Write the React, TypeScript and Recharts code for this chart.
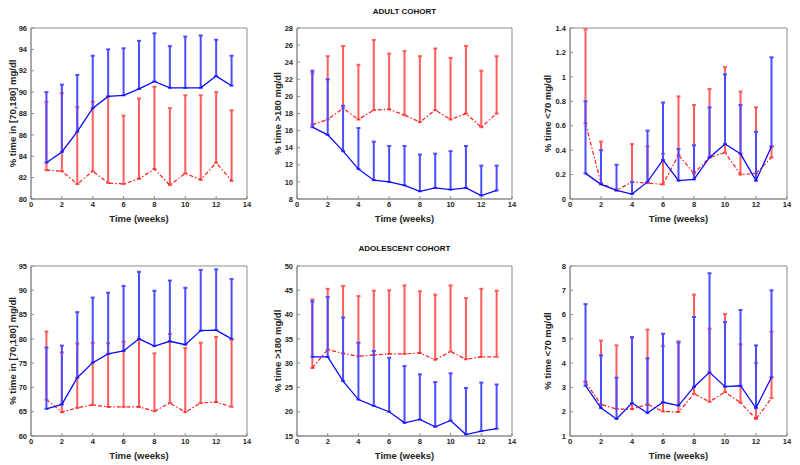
import { ComposedChart, ErrorBar, Line, ReferenceArea, XAxis, YAxis } from 'recharts'

const weeks = [1, 2, 3, 4, 5, 6, 7, 8, 9, 10, 11, 12, 13]
const weekTicks = [0, 2, 4, 6, 8, 10, 12, 14]

// adult cohort
const adultTirBlue = [83.4, 84.4, 86.3, 88.5, 89.6, 89.7, 90.3, 91.0, 90.4, 90.4, 90.4, 91.5, 90.6]
const adultTirBlueHi = [90.0, 90.7, 91.6, 93.4, 94.0, 94.1, 94.8, 95.5, 94.3, 95.2, 95.3, 94.9, 93.4]
const adultTirRed = [82.7, 82.6, 81.4, 82.6, 81.5, 81.4, 81.9, 82.8, 81.3, 82.4, 81.8, 83.4, 81.7]
const adultTirRedHi = [89.1, 89.9, 88.6, 89.1, 89.6, 87.8, 89.4, 90.5, 88.5, 89.7, 89.7, 90.0, 88.3]

const adultHighBlue = [16.4, 15.5, 13.6, 11.5, 10.2, 10.0, 9.6, 8.9, 9.3, 9.1, 9.3, 8.4, 9.0]
const adultHighBlueHi = [23.0, 22.0, 18.9, 16.3, 14.7, 14.2, 14.2, 13.2, 13.3, 13.6, 14.2, 11.9, 11.9]
const adultHighRed = [16.7, 17.3, 18.6, 17.3, 18.4, 18.5, 17.8, 17.0, 18.4, 17.3, 18.0, 16.4, 18.0]
const adultHighRedHi = [22.7, 24.7, 25.9, 23.7, 26.6, 25.0, 25.3, 24.7, 25.6, 24.5, 25.9, 23.0, 24.7]

const adultLowBlue = [0.21, 0.12, 0.07, 0.04, 0.14, 0.32, 0.15, 0.16, 0.34, 0.45, 0.37, 0.15, 0.43]
const adultLowBlueHi = [0.8, 0.4, 0.28, 0.14, 0.56, 0.79, 0.41, 0.44, 0.75, 1.02, 0.77, 0.55, 1.16]
const adultLowRed = [0.62, 0.13, 0.07, 0.14, 0.13, 0.12, 0.36, 0.21, 0.34, 0.38, 0.2, 0.21, 0.34]
const adultLowRedHi = [1.39, 0.47, 0.08, 0.45, 0.43, 0.37, 0.84, 0.77, 0.9, 1.08, 0.88, 0.75, 0.43]

// adolescent cohort
const teenTirBlue = [65.6, 66.5, 72.0, 75.1, 76.9, 77.5, 80.0, 78.5, 79.5, 78.8, 81.7, 81.8, 80.0]
const teenTirBlueHi = [78.2, 78.6, 85.5, 88.5, 89.5, 90.9, 93.8, 89.9, 92.0, 90.5, 94.2, 94.3, 92.3]
const teenTirRed = [67.5, 64.9, 65.8, 66.4, 66.0, 66.0, 66.0, 65.1, 66.8, 64.9, 66.8, 67.0, 66.0]
const teenTirRedHi = [81.5, 77.2, 79.0, 79.2, 79.1, 79.4, 79.9, 77.0, 81.0, 78.1, 79.2, 80.4, 79.8]

const teenHighBlue = [31.3, 31.3, 26.3, 22.5, 21.2, 20.0, 17.7, 18.4, 16.9, 18.2, 15.3, 16.0, 16.5]
const teenHighBlueHi = [42.7, 43.6, 39.4, 34.2, 32.5, 31.1, 29.4, 27.7, 26.1, 27.9, 24.9, 26.0, 25.6]
const teenHighRed = [29.0, 32.8, 32.0, 31.4, 31.7, 31.9, 31.9, 32.1, 30.7, 32.4, 30.8, 31.3, 31.3]
const teenHighRedHi = [43.1, 45.3, 45.9, 43.8, 44.9, 45.0, 46.0, 44.8, 44.1, 46.0, 43.4, 45.3, 44.9]

const teenLowBlue = [3.07, 2.15, 1.7, 2.36, 1.95, 2.39, 2.25, 3.02, 3.62, 3.03, 3.07, 2.15, 3.42]
const teenLowBlueHi = [6.43, 4.32, 3.4, 5.06, 4.2, 5.21, 4.85, 5.9, 7.7, 5.69, 6.19, 4.73, 7.0]
const teenLowRed = [3.22, 2.3, 2.11, 2.11, 2.3, 2.01, 1.99, 2.74, 2.41, 2.81, 2.37, 1.7, 2.56]
const teenLowRedHi = [3.25, 4.93, 4.73, 5.08, 5.38, 4.7, 4.9, 6.82, 5.42, 6.02, 4.78, 4.0, 5.3]

const tirTicksAdult = [80, 82, 84, 86, 88, 90, 92, 94, 96]
const highTicksAdult = [8, 10, 12, 14, 16, 18, 20, 22, 24, 26, 28]
const lowTicksAdult = [0, 0.2, 0.4, 0.6, 0.8, 1, 1.2, 1.4]
const tirTicksTeen = [60, 65, 70, 75, 80, 85, 90, 95]
const highTicksTeen = [15, 20, 25, 30, 35, 40, 45, 50]
const lowTicksTeen = [1, 2, 3, 4, 5, 6, 7, 8]

const FONT = '"Liberation Sans", Arial, sans-serif'
const AXIS = '#8c8c8c'
const TEXT = '#262626'

function rows(blue: number[], blueHi: number[], red: number[], redHi: number[]) {
  return weeks.map((w, i) => ({
    week: w,
    blue: blue[i],
    blueErr: [0, blueHi[i] - blue[i]],
    red: red[i],
    redErr: [0, redHi[i] - red[i]],
  }))
}

type PanelProps = {
  x: number
  y: number
  w: number
  h: number
  yw: number
  labelOffset: number
  ticks: number[]
  yLabel: string
  data: ReturnType<typeof rows>
}

function Panel({ x, y, w, h, yw, labelOffset, ticks, yLabel, data }: PanelProps) {
  const mt = 10
  const mr = 10
  const xh = 26
  const tickStyle = { fontSize: 7.5, fontWeight: 700, fill: TEXT, fontFamily: FONT }
  const labelStyle = { fontSize: 9.5, fontWeight: 700, fill: TEXT, fontFamily: FONT }
  const domain: [number, number] = [ticks[0], ticks[ticks.length - 1]]
  return (
    <div style={{ position: 'absolute', left: x - yw, top: y - mt }}>
      <ComposedChart
        width={yw + w + mr}
        height={mt + h + xh}
        data={data}
        margin={{ top: mt, right: mr, left: 0, bottom: 0 }}
      >
        <XAxis
          dataKey="week"
          type="number"
          domain={[0, 14]}
          ticks={weekTicks}
          height={xh}
          stroke={AXIS}
          tickSize={-3}
          tickMargin={6}
          tick={tickStyle}
          label={{ value: 'Time (weeks)', position: 'insideBottom', offset: 3, style: labelStyle }}
        />
        <YAxis
          type="number"
          domain={domain}
          ticks={ticks}
          width={yw}
          stroke={AXIS}
          tickSize={-3}
          tickMargin={7}
          tick={tickStyle}
          allowDataOverflow
          label={{
            value: yLabel,
            angle: -90,
            position: 'insideLeft',
            offset: labelOffset,
            style: { ...labelStyle, textAnchor: 'middle' },
          }}
        />
        <ReferenceArea
          x1={0}
          x2={14}
          y1={domain[0]}
          y2={domain[1]}
          fill="none"
          stroke={AXIS}
          strokeWidth={1}
          ifOverflow="visible"
        />
        <Line
          dataKey="red"
          stroke="#ff1a1a"
          strokeWidth={1.2}
          strokeDasharray="4 2 1.5 2"
          dot={false}
          isAnimationActive={false}
        >
          <ErrorBar dataKey="redErr" direction="y" width={2} stroke="#ff5c5c" strokeWidth={2} />
        </Line>
        <Line dataKey="blue" stroke="#0a0aff" strokeWidth={1.3} dot={false} isAnimationActive={false}>
          <ErrorBar dataKey="blueErr" direction="y" width={2} stroke="#4d4dff" strokeWidth={2} />
        </Line>
      </ComposedChart>
    </div>
  )
}

function Title({ text, top }: { text: string; top: number }) {
  return (
    <div
      style={{
        position: 'absolute',
        left: 297,
        width: 215,
        top,
        textAlign: 'center',
        fontFamily: FONT,
        fontWeight: 700,
        fontSize: 8,
        color: '#111',
        lineHeight: '10px',
      }}
    >
      {text}
    </div>
  )
}

export default function App() {
  return (
    <div style={{ position: 'fixed', left: 0, top: 0, width: 800, height: 465, background: '#fff' }}>
      <Title text="ADULT COHORT" top={7} />
      <Title text="ADOLESCENT COHORT" top={244} />
      <Panel x={31} y={28} w={216} h={171} yw={31} labelOffset={13} ticks={tirTicksAdult}
        yLabel="% time in [70,180] mg/dl" data={rows(adultTirBlue, adultTirBlueHi, adultTirRed, adultTirRedHi)} />
      <Panel x={297} y={28} w={215} h={171} yw={31} labelOffset={12} ticks={highTicksAdult}
        yLabel="% time >180 mg/dl" data={rows(adultHighBlue, adultHighBlueHi, adultHighRed, adultHighRedHi)} />
      <Panel x={570} y={28} w={217} h={171} yw={40} labelOffset={18} ticks={lowTicksAdult}
        yLabel="% time <70 mg/dl" data={rows(adultLowBlue, adultLowBlueHi, adultLowRed, adultLowRedHi)} />
      <Panel x={31} y={266} w={216} h={170} yw={31} labelOffset={13} ticks={tirTicksTeen}
        yLabel="% time in [70,180] mg/dl" data={rows(teenTirBlue, teenTirBlueHi, teenTirRed, teenTirRedHi)} />
      <Panel x={297} y={266} w={215} h={170} yw={31} labelOffset={12} ticks={highTicksTeen}
        yLabel="% time >180 mg/dl" data={rows(teenHighBlue, teenHighBlueHi, teenHighRed, teenHighRedHi)} />
      <Panel x={570} y={266} w={217} h={170} yw={40} labelOffset={18} ticks={lowTicksTeen}
        yLabel="% time <70 mg/dl" data={rows(teenLowBlue, teenLowBlueHi, teenLowRed, teenLowRedHi)} />
    </div>
  )
}
